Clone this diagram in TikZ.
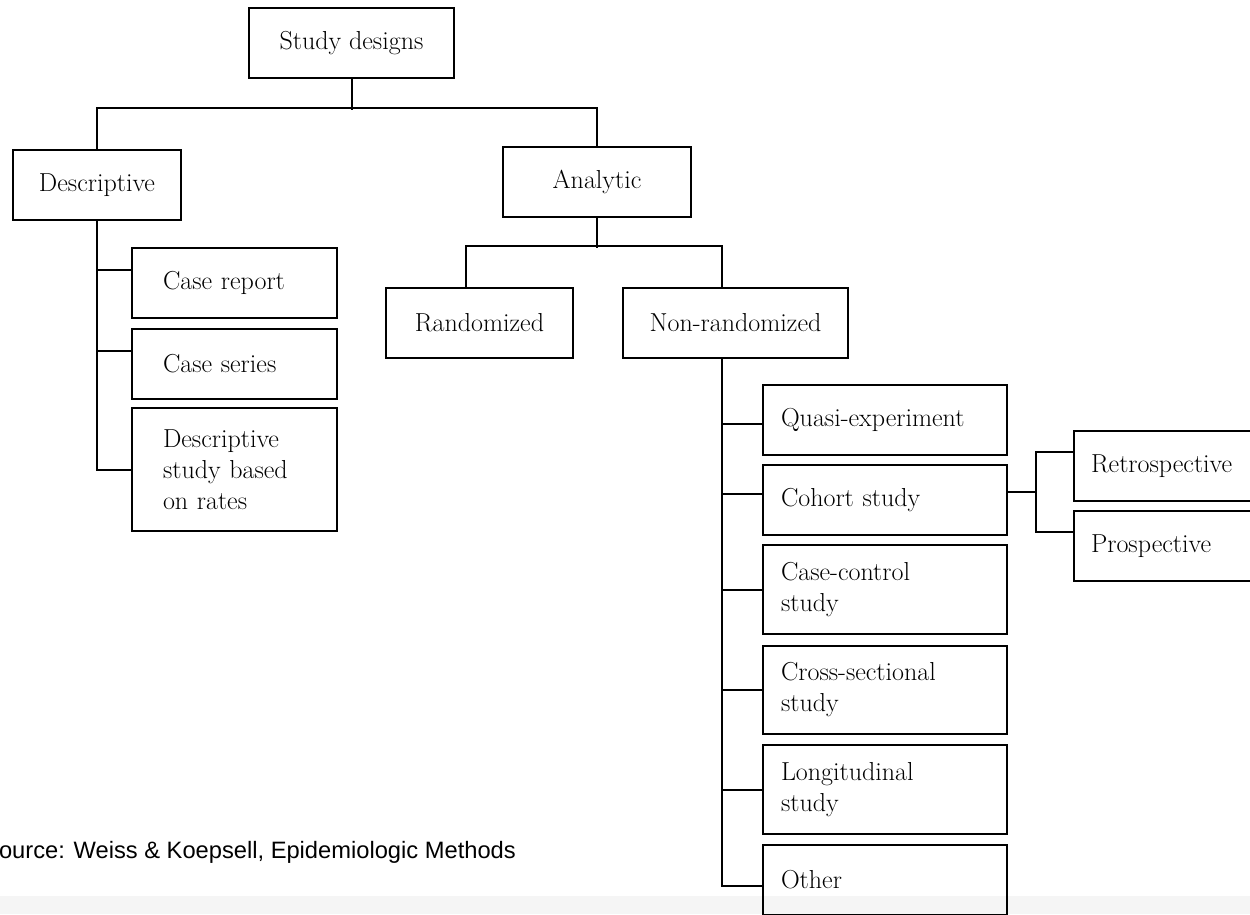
\documentclass[tikz,border=0pt]{standalone}
\usepackage{fontspec}
\newfontfamily\srcfont{Liberation Sans}
\newcommand\boxtextfont{\fontsize{26}{31}\selectfont}
\definecolor{bandgray}{RGB}{245,245,245}

\begin{document}
\begin{tikzpicture}[x=1pt, y=-1pt,
      box/.style={rectangle, draw, line width=2pt, anchor=north west,
        inner sep=0pt, minimum height=70pt, font=\boxtextfont},
      midbox/.style={box, align=center},
      leftleaf/.style={box, inner xsep=31pt, text width=143pt, align=left},
      leaf/.style={box, inner xsep=18pt, text width=208pt, align=left},
      subleaf/.style={box, inner xsep=17pt, text width=166pt, align=left},
      link/.style={line width=2pt}]

    \useasboundingbox (0,0) rectangle (1250,914);
    \fill[bandgray] (0,896) rectangle (1250,914);

    \node[midbox, minimum width=205pt] (sd) at (248,7) {Study designs};
    \node[midbox, minimum width=168pt] (desc) at (12,149) {Descriptive};
    \node[midbox, minimum width=188pt] (anal) at (502,146) {Analytic};

    \node[leftleaf] (crep) at (131,247) {Case report};
    \node[leftleaf] (cser) at (131,328) {Case series};
    \node[leftleaf, minimum height=123pt] (rates) at (131,407) {Descriptive\\study based\\on rates};

    \node[midbox, minimum width=187pt] (rand) at (385,287) {Randomized};
    \node[midbox, minimum width=225pt] (nonr) at (622,287) {Non-randomized};

    \node[leaf] (quasi) at (762,384) {Quasi-experiment};
    \node[leaf] (coh) at (762,464) {Cohort study};
    \node[leaf, minimum height=89pt] (cc) at (762,544) {Case-control\\study};
    \node[leaf, minimum height=88pt] (cross) at (762,645) {Cross-sectional\\study};
    \node[leaf, minimum height=89pt] (longi) at (762,744) {Longitudinal\\study};
    \node[leaf] (other) at (762,844) {Other};

    \node[subleaf] (retro) at (1073,430) {Retrospective};
    \node[subleaf] (prosp) at (1073,510) {Prospective};

    \node[font=\srcfont\fontsize{23.7}{28}\selectfont, anchor=base west, inner sep=0pt]
      (src) at (-17,858) {Source: Weiss \& Koepsell, Epidemiologic Methods};

    % top level
    \draw[link] (sd.south) -- ++(0,31);
    \draw[link] (desc.north) -- ++(0,-41) -| (anal.north);

    % descriptive branch
    \draw[link] (desc.south) |- ([yshift=13pt]crep.west);
    \draw[link] (desc.south) |- ([yshift=13pt]cser.west);
    \draw[link] (desc.south) |- (rates.west);

    % analytic branch
    \draw[link] (anal.south) -- ++(0,30);
    \draw[link] ([xshift=-14pt]rand.north) -- ++(0,-41) -| ([xshift=-14pt]nonr.north);

    % non-randomized designs
    \coordinate (nt) at ([xshift=-14pt]nonr.south);
    \draw[link] (nt) |- ([yshift=-4pt]quasi.west);
    \draw[link] (nt) |- ([yshift=6pt]coh.west);
    \draw[link] (nt) |- (cc.west);
    \draw[link] (nt) |- (cross.west);
    \draw[link] (nt) |- (longi.west);
    \draw[link] (nt) |- ([yshift=-6pt]other.west);

    % cohort split
    \draw[link] ([yshift=8pt]coh.east) -- ++(28,0) coordinate (cb);
    \draw[link] (cb) |- ([yshift=14pt]retro.west);
    \draw[link] (cb) |- ([yshift=14pt]prosp.west);

  \end{tikzpicture}
\end{document}
